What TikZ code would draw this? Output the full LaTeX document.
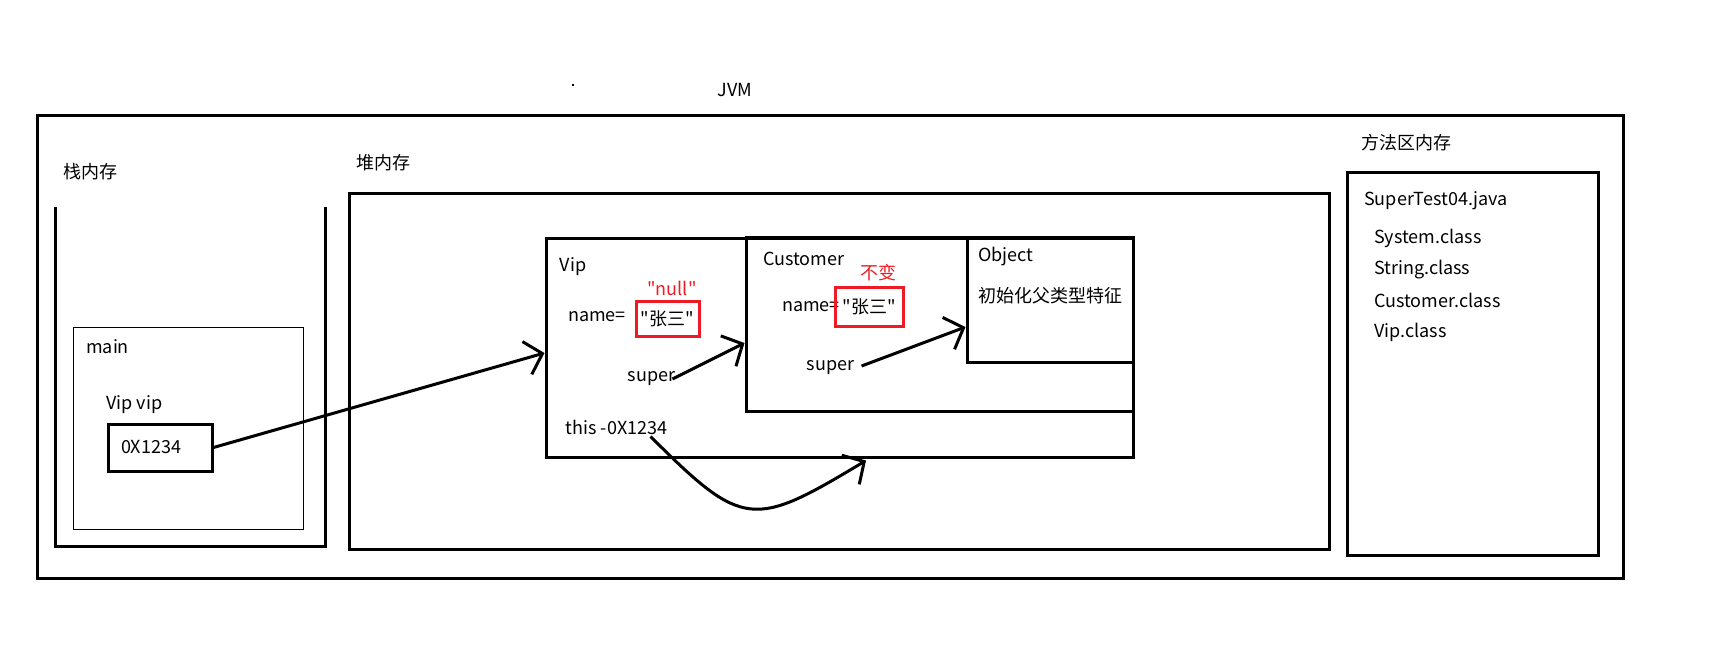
\documentclass[tikz,border=0pt]{standalone}
\usepackage{fontspec}
\setmainfont{Noto Sans CJK SC}[Ligatures=TeXOff]
\usetikzlibrary{arrows.meta}
\definecolor{paintred}{RGB}{237,28,36}
\tikzset{
  box/.style={draw,line width=3pt,inner sep=0pt},
  thinbox/.style={draw,line width=1pt,inner sep=0pt},
  redbox/.style={draw=paintred,line width=3pt,inner sep=0pt},
  txt/.style={anchor=west,inner sep=0pt},
  ptr/.style={line width=3pt,-{Straight Barb[length=16pt,width=34pt]}}
}
\begin{document}
\begin{tikzpicture}[x=1pt,y=-1pt,font=\fontsize{18}{21}\selectfont]
    \useasboundingbox (0,0) rectangle (1728,648);
    \fill (572,84) rectangle (574,86);
    \node (jvmlabel) at (735,90) {JVM};
    \node[box,minimum width=1586pt,minimum height=463pt] (jvm) at (830,346.5) {};

    % stack
    \node[txt] (stacklabel) at (63,172) {栈内存};
    \draw[line width=3pt] (55.5,207) |- (325.7,546) -- (325.7,207);
    \node[thinbox,minimum width=230pt,minimum height=202pt] (mainframe) at (188.5,428) {};
    \node[txt] (mainlabel) at (86,347) {main};
    \node[txt] (viplocal) at (106,405) {Vip vip};
    \node[box,minimum height=47pt,inner xsep=13pt,text width=78pt,align=left] (addr) at (160,447.5) {0X1234};

    % heap
    \node[txt] (heaplabel) at (356,163) {堆内存};
    \node[box,minimum width=980pt,minimum height=356pt] (heap) at (839,371) {};
    \node[box,minimum width=587pt,minimum height=219pt] (vip) at (839.5,347.5) {};
    \node[box,minimum width=387pt,minimum height=174pt] (cust) at (939.5,324) {};
    \node[box,minimum width=166pt,minimum height=125pt] (obj) at (1050,299.5) {};

    \node[txt] (viptitle) at (559.5,267) {Vip};
    \node[txt] (vipname) at (568,317) {name=};
    \node[redbox,minimum width=63pt,minimum height=35pt] (vipval) at (667.5,318.5) {"张三"};
    \node[text=paintred] (nullval) at (672,288) {"null"};
    \node[txt] (vipsuper) at (627.6,379) {super};
    \node[txt] (vipthis) at (565.5,427) {this -0X1234};

    \node[txt] (custtitle) at (763,259) {Customer};
    \node[txt] (custname) at (782,307) {name=};
    \node[redbox,minimum width=68pt,minimum height=39pt] (custval) at (869,306.5) {"张三"};
    \node[text=paintred] (keep) at (878,273) {不变};
    \node[txt] (custsuper) at (806.7,368) {super};

    \node[txt] (objtitle) at (978,257) {Object};
    \node[txt] (objinit) at (978,296) {初始化父类型特征};

    % method area
    \node[txt] (methodlabel) at (1361,143) {方法区内存};
    \node[box,minimum width=251pt,minimum height=383pt] (method) at (1472.5,363.5) {};
    \node[txt] (srcfile) at (1364,201) {SuperTest04.java};
    \node[txt] (sysclass) at (1374,238) {System.class};
    \node[txt] (strclass) at (1374,270) {String.class};
    \node[txt] (custclass) at (1374,300) {Customer.class};
    \node[txt] (vipclass) at (1374,332) {Vip.class};

    \draw[ptr] (addr.east) -- ([yshift=-5.5pt]vip.west);
    \draw[ptr] ([xshift=-3pt,yshift=0pt]vipsuper.east) -- ([yshift=-19pt]cust.west);
    \draw[ptr] ([xshift=7pt,yshift=2pt]custsuper.east) -- ([yshift=-27.5pt]obj.west);
    \draw[ptr] ([xshift=-17pt,yshift=-2pt]vipthis.south east) to[out=-45,in=211,looseness=1.55] ([xshift=26.5pt,yshift=-2pt]vip.south);
\end{tikzpicture}
\end{document}
